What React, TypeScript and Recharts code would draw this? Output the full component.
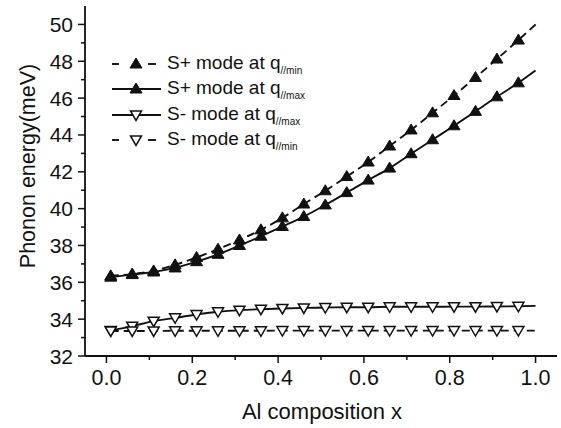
import { LineChart, Line, XAxis, YAxis, Legend } from "recharts";

// composition values where the points were computed (last one only carries the line to x = 1)
const xValues = [0.01, 0.06, 0.11, 0.16, 0.21, 0.26, 0.31, 0.36, 0.41, 0.46, 0.51, 0.56, 0.61, 0.66, 0.71, 0.76, 0.81, 0.86, 0.91, 0.96, 1.0];

const sPlusMin = [36.35, 36.45, 36.62, 36.95, 37.35, 37.8, 38.3, 38.85, 39.5, 40.25, 40.97, 41.74, 42.53, 43.4, 44.27, 45.2, 46.14, 47.12, 48.12, 49.15, 50.0];
const sPlusMax = [36.28, 36.42, 36.56, 36.78, 37.12, 37.52, 38.0, 38.5, 39.03, 39.57, 40.2, 40.87, 41.55, 42.2, 42.98, 43.74, 44.5, 45.28, 46.07, 46.83, 47.5];
const sMinusMax = [33.38, 33.62, 33.89, 34.07, 34.25, 34.4, 34.49, 34.54, 34.58, 34.61, 34.63, 34.65, 34.65, 34.67, 34.67, 34.67, 34.68, 34.68, 34.69, 34.7, 34.72];
const sMinusMin = [33.36, 33.36, 33.36, 33.37, 33.37, 33.37, 33.37, 33.37, 33.38, 33.38, 33.38, 33.38, 33.38, 33.38, 33.38, 33.38, 33.38, 33.38, 33.38, 33.38, 33.38];

const xTicks = [0, 0.1, 0.2, 0.3, 0.4, 0.5, 0.6, 0.7, 0.8, 0.9, 1.0];
const yTicks = [32, 33, 34, 35, 36, 37, 38, 39, 40, 41, 42, 43, 44, 45, 46, 47, 48, 49, 50];

const data = xValues.map((x, i) => ({
  x,
  spMin: sPlusMin[i],
  spMax: sPlusMax[i],
  smMax: sMinusMax[i],
  smMin: sMinusMin[i],
}));

const FONT = "'Liberation Sans', Arial, sans-serif";
const INK = "#111";
const LAST = xValues.length - 1;

const TriUp = ({ cx, cy }: { cx: number; cy: number }) => (
  <polygon points={`${cx},${cy - 6} ${cx - 6},${cy + 4} ${cx + 6},${cy + 4}`} fill={INK} stroke={INK} strokeWidth={1} />
);
const TriDown = ({ cx, cy }: { cx: number; cy: number }) => (
  <polygon points={`${cx - 5.5},${cy - 4} ${cx + 5.5},${cy - 4} ${cx},${cy + 5.5}`} fill="#fff" stroke={INK} strokeWidth={1.5} />
);

const upDot = (p: any) => (p.index === LAST ? <g key={p.key} /> : <TriUp key={p.key} cx={p.cx} cy={p.cy} />);
const downDot = (p: any) => (p.index === LAST ? <g key={p.key} /> : <TriDown key={p.key} cx={p.cx} cy={p.cy} />);

function XTick({ x, y, payload }: any) {
  const v = Math.round(payload.value * 10);
  const major = v % 2 === 0;
  return (
    <g>
      <line x1={x} x2={x} y1={y} y2={y + (major ? 7 : 4)} stroke={INK} strokeWidth={1.5} />
      {major && (
        <text x={x} y={y + 29} textAnchor="middle" fontFamily={FONT} fontSize={21.5} fill={INK}>
          {(payload.value as number).toFixed(1)}
        </text>
      )}
    </g>
  );
}

function YTick({ x, y, payload }: any) {
  const major = payload.value % 2 === 0;
  return (
    <g>
      <line x1={x} x2={x - (major ? 7 : 4)} y1={y} y2={y} stroke={INK} strokeWidth={1.5} />
      {major && (
        <text x={x - 12} y={y + 7.5} textAnchor="end" fontFamily={FONT} fontSize={21} fill={INK}>
          {payload.value}
        </text>
      )}
    </g>
  );
}

const legendItems = [
  { label: "S+ mode at q", sub: "//min", dashed: true, up: true },
  { label: "S+ mode at q", sub: "//max", dashed: false, up: true },
  { label: "S- mode at q", sub: "//max", dashed: false, up: false },
  { label: "S- mode at q", sub: "//min", dashed: true, up: false },
];

function LegendBox() {
  return (
    <div style={{ fontFamily: FONT, color: INK }}>
      {legendItems.map((it, i) => (
        <div key={i} style={{ display: "flex", alignItems: "center", height: 25.5 }}>
          <svg width={52} height={20} style={{ display: "block" }}>
            {it.dashed ? (
              <g stroke={INK} strokeWidth={1.9}>
                <line x1={1} x2={8} y1={10} y2={10} />
                <line x1={37} x2={45} y1={10} y2={10} />
              </g>
            ) : (
              <line x1={1} x2={50} y1={10} y2={10} stroke={INK} strokeWidth={1.9} />
            )}
            {it.up ? <TriUp cx={25} cy={10} /> : <TriDown cx={25} cy={10} />}
          </svg>
          <span style={{ fontSize: 19, marginLeft: 4, whiteSpace: "nowrap" }}>
            {it.label}
            <sub style={{ fontSize: 10, verticalAlign: "-5px" }}>{it.sub}</sub>
          </span>
        </div>
      ))}
    </div>
  );
}

function YTitle() {
  return (
    <text x={28} y={166} transform="rotate(-90, 28, 166)" textAnchor="middle" dominantBaseline="central" fontFamily={FONT} fontSize={21.5} fill={INK}>
      Phonon energy(meV)
    </text>
  );
}

function XTitle() {
  return (
    <text x={322} y={419} textAnchor="middle" fontFamily={FONT} fontSize={22} fill={INK}>
      Al composition x
    </text>
  );
}

export default function App() {
  return (
    <div style={{ position: "absolute", left: 0, top: 0, background: "#fff" }}>
      <LineChart width={561} height={428} data={data} margin={{ top: 6, right: 4, bottom: 22, left: 25 }}>
        <XAxis
          dataKey="x"
          type="number"
          domain={[-0.05, 1.05]}
          ticks={xTicks}
          interval={0}
          tickSize={0}
          tickMargin={0}
          tickLine={false}
          tick={<XTick />}
          height={50}
          axisLine={{ stroke: INK, strokeWidth: 1.8 }}
          allowDataOverflow
          label={<XTitle />}
        />
        <XAxis xAxisId="top" orientation="top" type="number" domain={[-0.05, 1.05]} height={0} tick={false} tickLine={false} axisLine={{ stroke: INK, strokeWidth: 1.8 }} />
        <YAxis
          type="number"
          domain={[32, 51]}
          ticks={yTicks}
          interval={0}
          tickSize={0}
          tickMargin={0}
          tickLine={false}
          tick={<YTick />}
          width={60}
          axisLine={{ stroke: INK, strokeWidth: 1.8 }}
          allowDataOverflow
          label={<YTitle />}
        />
        <YAxis yAxisId="right" orientation="right" type="number" domain={[32, 51]} width={0} tick={false} tickLine={false} axisLine={{ stroke: INK, strokeWidth: 1.8 }} />
        <Legend
          layout="horizontal"
          verticalAlign="middle"
          align="center"
          content={<LegendBox />}
          wrapperStyle={{ position: "absolute", left: 111, top: 51, width: "auto" }}
        />
        <Line type="monotone" dataKey="spMin" stroke={INK} strokeWidth={1.9} strokeDasharray="8 5" dot={upDot} isAnimationActive={false} />
        <Line type="monotone" dataKey="spMax" stroke={INK} strokeWidth={1.9} dot={upDot} isAnimationActive={false} />
        <Line type="monotone" dataKey="smMax" stroke={INK} strokeWidth={1.9} dot={downDot} isAnimationActive={false} />
        <Line type="monotone" dataKey="smMin" stroke={INK} strokeWidth={1.9} strokeDasharray="8 5" dot={downDot} isAnimationActive={false} />
      </LineChart>
    </div>
  );
}
